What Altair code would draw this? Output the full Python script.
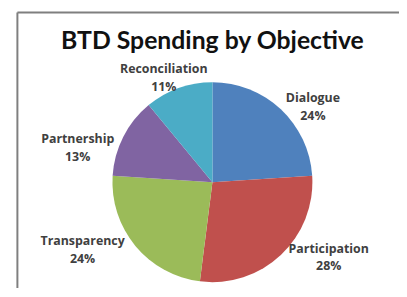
import altair as alt
import pandas as pd

categories = ["Dialogue", "Participation", "Transparency", "Partnership", "Reconciliation"]
values = [24, 28, 24, 13, 11]
colors = ["#4F81BD", "#C0504D", "#9BBB59", "#8064A2", "#4BACC6"]

df = pd.DataFrame({
    "idx": list(range(len(categories))),
    "category": categories,
    "value": values,
    "label": [f"{c}\n{v}%" for c, v in zip(categories, values)],
})

W, H = 367, 211
CX, CY = 183.5, 105.5  # view center (pie center)
RX, RY = 160, 115      # label ellipse

base = alt.Chart(df)

pie = base.mark_arc(radius=101).encode(
    theta=alt.Theta("value:Q", stack=True),
    color=alt.Color("category:N", scale=alt.Scale(domain=categories, range=colors), legend=None),
    order=alt.Order("idx:Q"),
)

labels = base.transform_joinaggregate(
    total="sum(value)"
).transform_window(
    cum="sum(value)", sort=[alt.SortField("idx")], frame=[None, 0]
).transform_calculate(
    mid="(datum.cum - datum.value/2) / datum.total * 2 * PI",
    lx=f"{RX} * sin(datum.mid) * (1 - 0.1 * cos(datum.mid))",
    ly=f"{RY} * (cos(datum.mid) < 0 ? -1 : 1) * pow(abs(cos(datum.mid)), 1.3)"
       " - (sin(datum.mid) < 0 ? 8 * pow(sin(datum.mid), 2) : 0)",
).mark_text(
    font="Open Sans", fontSize=12.5, fontWeight="bold", color="#404040",
    lineBreak="\n", lineHeight=18, align="center", baseline="middle", dy=-9,
).encode(
    x=alt.X("lx:Q", scale=alt.Scale(domain=[-CX, W - CX], nice=False, zero=False), axis=None),
    y=alt.Y("ly:Q", scale=alt.Scale(domain=[CY - H, CY], nice=False, zero=False), axis=None),
    text="label:N",
)

frame_data = alt.Data(values=[{"a": 1}])
top_line = alt.Chart(frame_data).mark_rule(color="#7f7f7f", strokeWidth=2).encode(
    x=alt.value(-13.5), x2=alt.value(380), y=alt.value(-66)
)
left_line = alt.Chart(frame_data).mark_rule(color="#7f7f7f", strokeWidth=2).encode(
    x=alt.value(-13.5), y=alt.value(-66), y2=alt.value(230)
)

chart = alt.layer(pie, labels, top_line, left_line).properties(
    width=W, height=H,
    padding={"left": 23, "top": 69, "right": 5, "bottom": 0},
    autosize=alt.AutoSizeParams(type="none"),
    title=alt.Title(
        "BTD Spending by Objective", font="Lato", fontSize=25, fontWeight="bold",
        color="#111111", anchor="middle", frame="group", baseline="alphabetic",
        offset=25, dy=88,
    ),
).configure_view(stroke=None)

chart.save("out.html", embed_options={"renderer": "svg", "actions": False})
